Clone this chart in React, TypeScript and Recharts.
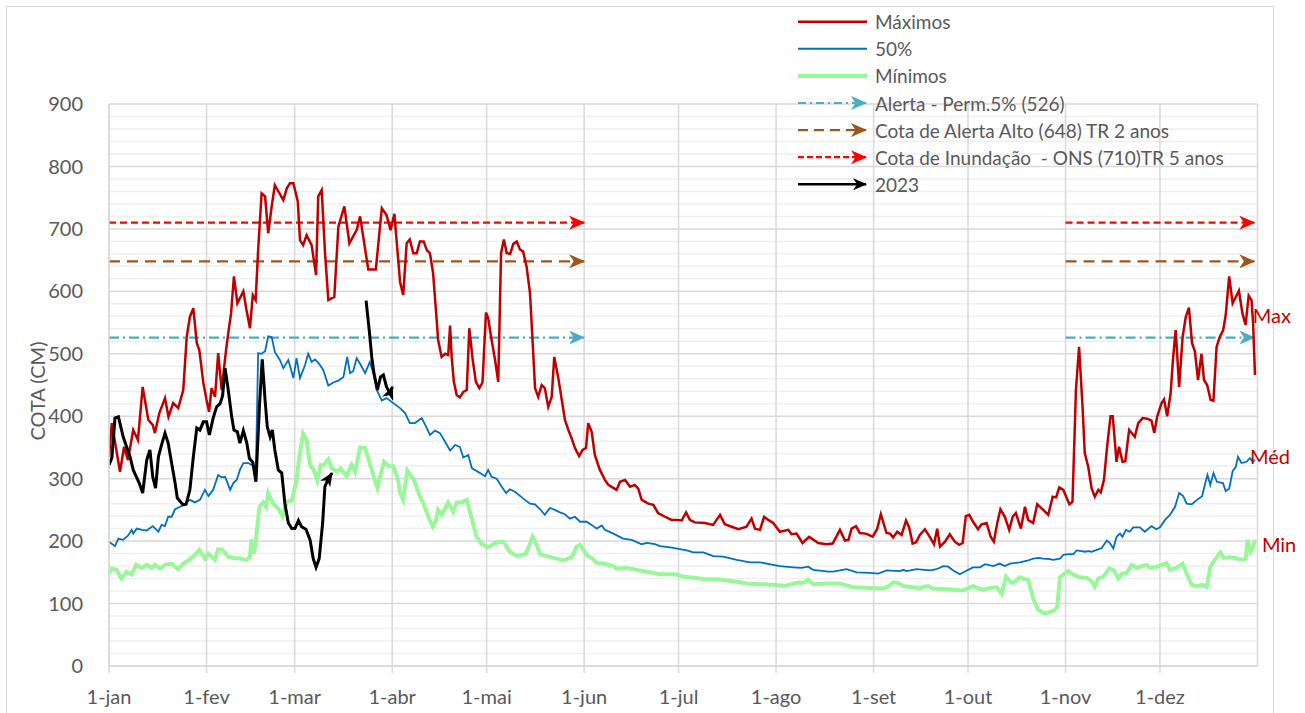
import React from 'react';
import { LineChart, Line, XAxis, YAxis, CartesianGrid, Legend, ReferenceDot } from 'recharts';

// ---------- categories / ticks ----------
const monthDays = [0, 31, 59, 90, 120, 151, 181, 212, 243, 273, 304, 334];
const monthLabels = ['1-jan', '1-fev', '1-mar', '1-abr', '1-mai', '1-jun', '1-jul', '1-ago', '1-set', '1-out', '1-nov', '1-dez'];
const yearEnd = 365;
const yTicks = [0, 100, 200, 300, 400, 500, 600, 700, 800, 900];
const yMinorTicks = [20, 40, 60, 80, 120, 140, 160, 180, 220, 240, 260, 280, 320, 340, 360, 380, 420, 440, 460, 480, 520, 540, 560, 580, 620, 640, 660, 680, 720, 740, 760, 780, 820, 840, 860, 880];

// ---------- series values: [day of year, cota cm] ----------
const maximos: number[][] = [
  [0, 335], [0.9, 389], [3.5, 311], [4.8, 351], [6, 330], [7.7, 378], [9.2, 362], [10.7, 447], [12.5, 394], [13.9, 386],
  [14.6, 373], [16, 405], [17.8, 429], [18.9, 399], [20.4, 421], [22, 413], [23.6, 442], [24.7, 527], [25.7, 559], [26.8, 573],
  [27.9, 517], [28.7, 506], [30, 453], [31, 426], [31.8, 407], [32.6, 445], [33.7, 431], [34.7, 501], [35.8, 442], [37.2, 506],
  [37.9, 533], [38.8, 565], [39.7, 624], [40.8, 581], [42.7, 600], [43.7, 570], [44.8, 541], [45.7, 594], [46.6, 586], [47.4, 666],
  [48.5, 757], [49.6, 752], [50.6, 693], [51.7, 736], [52.7, 770], [55.4, 746], [56.5, 765], [57.5, 773], [58.6, 773], [60, 744],
  [60.7, 682], [61.7, 674], [62.8, 690], [64.4, 674], [65.8, 626], [66.5, 752], [67.6, 762], [68.6, 666], [69.7, 586], [71.6, 591],
  [72.9, 704], [74.8, 736], [76.4, 677], [78.7, 698], [79.8, 720], [82.4, 635], [84.8, 635], [86.7, 733], [88.2, 722], [89.5, 698],
  [90.7, 724], [92.5, 615], [93.5, 594], [94.6, 677], [95.6, 683], [96.7, 661], [97.8, 661], [98.8, 680], [100, 680], [101, 666],
  [102, 661], [103, 629], [103.9, 570], [104.6, 522], [105.7, 495], [106.8, 500], [107.8, 498], [108.4, 545], [108.9, 495], [109.6, 455],
  [110.5, 434], [111.5, 430], [112.6, 439], [113.7, 442], [114.5, 541], [115.6, 490], [116.6, 455], [117.7, 445], [118.7, 454], [119.8, 566],
  [120.5, 557], [121.6, 522], [122.7, 490], [123.7, 455], [124.6, 661], [125.5, 683], [126.4, 661], [127.5, 660], [128.5, 676], [129.6, 680],
  [130.6, 667], [131.6, 664], [132.7, 640], [133.8, 597], [134.6, 522], [135.4, 445], [136.4, 431], [137.5, 450], [138.5, 445], [139.6, 415],
  [140.7, 431], [141.5, 495], [142.8, 461], [143.9, 426], [144.9, 394], [146, 378], [147, 365], [148.1, 349], [149.4, 336], [150.5, 346],
  [151.6, 349], [152.3, 389], [153.4, 375], [154.4, 338], [156, 314], [157.6, 298], [158.7, 290], [161.3, 282], [162.4, 295], [164, 298],
  [165.6, 287], [167.1, 290], [168.2, 284], [169.3, 266], [171.4, 260], [173, 258], [174.5, 245], [176.7, 239], [178.8, 234], [180.4, 234],
  [182, 233], [183.4, 246], [184.6, 234], [186.2, 230], [189.4, 229], [192, 226], [194.2, 242], [195.7, 227], [197.9, 223], [200, 219],
  [202.6, 223], [204.2, 236], [205.3, 220], [206.9, 218], [208.2, 239], [209.5, 234], [211.1, 229], [213.2, 215], [215.9, 218], [216.9, 211],
  [218.5, 212], [220.4, 197], [222.5, 207], [225.4, 197], [228, 195], [230, 196], [232.3, 218], [233.9, 201], [235, 202], [236, 220],
  [237.4, 224], [238.6, 213], [240.5, 212], [242.7, 207], [244.1, 219], [245.3, 243], [247.1, 213], [248.2, 212], [249.2, 206], [250.5, 215],
  [251.9, 210], [253.3, 233], [254.3, 222], [255.4, 196], [256.5, 198], [257.7, 210], [259.3, 219], [260.7, 208], [262.2, 195], [263.2, 220],
  [264.1, 191], [265.7, 199], [267.2, 211], [268.8, 199], [270.2, 194], [271.3, 197], [272.3, 240], [273.4, 242], [274.6, 231], [276.2, 219],
  [277.3, 227], [278.9, 229], [280.2, 207], [281.2, 199], [282.3, 229], [283.3, 251], [284.7, 239], [286.1, 218], [287.2, 239], [288.2, 245],
  [289.8, 220], [291.1, 255], [292.1, 234], [293.7, 229], [295, 259], [296.9, 250], [298.5, 242], [299.9, 271], [301, 270], [302, 286],
  [303.3, 282], [305.2, 259], [306.2, 263], [307.3, 442], [308.3, 511], [309.4, 415], [310.1, 341], [311.2, 319], [312.3, 284], [313.3, 271],
  [314.4, 282], [315.2, 278], [316.2, 298], [317.2, 351], [318.3, 400], [319, 400], [320.2, 327], [321, 351], [322.1, 327], [323, 328],
  [324.2, 378], [326, 367], [327.1, 389], [328.5, 397], [330, 396], [331.3, 393], [332.2, 373], [333.1, 399], [334.5, 421], [335.3, 427],
  [336.3, 400], [337.4, 437], [338.2, 495], [339, 538], [340.1, 447], [341.2, 527], [342.2, 559], [343.2, 574], [344.2, 517], [345.1, 504],
  [346.1, 458], [347.2, 500], [348, 458], [349, 450], [350.1, 426], [351, 425], [352, 511], [353, 527], [354.1, 538], [354.9, 562],
  [356, 624], [357.1, 581], [358.1, 591], [359.1, 601], [360.2, 565], [361.2, 546], [362.2, 593], [363.1, 586], [363.6, 549], [364.2, 466],
];

const mediana: number[][] = [
  [0, 199], [1.9, 192], [3, 204], [4.5, 202], [6.1, 209], [7.2, 218], [7.7, 212], [8.8, 220], [10.4, 218], [12, 217],
  [13.9, 224], [15.7, 215], [16.7, 226], [17.8, 224], [18.8, 239], [19.9, 239], [21, 251], [22.6, 255], [24.2, 260], [25.7, 266],
  [27.3, 262], [28.9, 266], [30.5, 282], [31.6, 272], [33.1, 282], [34.7, 306], [35.8, 302], [36.9, 303], [38.5, 282], [39.5, 293],
  [40.6, 298], [41.6, 314], [42.7, 325], [44.3, 325], [45.3, 322], [46.7, 320], [47.4, 501], [48.5, 500], [49.6, 504], [50.6, 528],
  [51.7, 527], [52.7, 503], [54.3, 490], [55.4, 477], [57, 490], [58.6, 461], [59.6, 493], [60.7, 461], [62.3, 482], [63.3, 500],
  [64.4, 487], [65.5, 491], [66.8, 484], [68.1, 474], [69.7, 449], [71.3, 454], [72.9, 457], [74.5, 463], [75.7, 495], [76.6, 469],
  [77.6, 472], [78.7, 493], [79.8, 484], [81.4, 469], [82.9, 487], [84, 469], [85.1, 442], [86.7, 425], [88.2, 429], [89.8, 423],
  [92.5, 413], [94.1, 405], [95.6, 389], [97.2, 389], [99.4, 397], [101, 381], [102, 370], [103.6, 377], [105.2, 373], [106.8, 359],
  [108.4, 345], [110, 354], [111.5, 351], [112.6, 334], [114.2, 338], [115.3, 317], [117.9, 309], [119.5, 304], [120.5, 314], [121.6, 303],
  [123.2, 300], [124.8, 287], [126.2, 277], [127.4, 283], [129, 279], [131.7, 268], [133.8, 260], [135.4, 259], [137, 251], [138.5, 242],
  [140.1, 253], [141.7, 250], [143.3, 246], [144.9, 243], [146.5, 236], [148.1, 239], [149.7, 231], [151.8, 231], [153.4, 226], [155, 220],
  [156.6, 225], [157.6, 218], [160.3, 212], [163.4, 204], [166.1, 202], [169.3, 195], [170.9, 197], [173.5, 195], [175.1, 192], [178.3, 190],
  [181.5, 187], [183.6, 185], [185.7, 182], [188.9, 182], [192, 176], [195.2, 175], [199.5, 170], [203.7, 166], [206.9, 166], [211.1, 162],
  [213.2, 160], [217.5, 158], [220.1, 157], [222.2, 159], [223.8, 154], [228.6, 151], [230.2, 151], [234.4, 155], [237.6, 150], [241.8, 149],
  [244.5, 148], [247.1, 153], [251.4, 152], [252.4, 154], [253.5, 152], [256.6, 155], [260.9, 153], [263, 155], [265.1, 160], [266.7, 159],
  [268.3, 153], [270.4, 147], [272.6, 153], [274.6, 158], [276.8, 158], [278.4, 163], [281, 160], [283.1, 164], [284.7, 160], [286.3, 164],
  [289.5, 166], [292.1, 169], [293.7, 172], [295.3, 173], [296.9, 172], [299, 171], [300.1, 170], [302.2, 172], [303.3, 178], [304.9, 179],
  [306.5, 179], [307.5, 185], [309.1, 184], [310.1, 183], [311.2, 184], [312.3, 183], [313.9, 186], [315.5, 189], [317.1, 201], [318.1, 197],
  [319.2, 188], [320.2, 207], [321.3, 212], [322.1, 207], [323.2, 218], [324.4, 215], [325.5, 222], [327.6, 222], [329.2, 215], [331.3, 224],
  [332.9, 219], [334, 222], [335.6, 234], [337.2, 242], [338.8, 255], [340.1, 277], [341.4, 272], [342.5, 260], [344.1, 259], [345.8, 266],
  [347.4, 272], [348.4, 293], [349.1, 306], [350, 290], [351, 309], [352.1, 295], [354, 293], [354.9, 280], [356, 284], [357.1, 312],
  [358.1, 319], [358.8, 335], [359.9, 325], [361.5, 327], [362.6, 333], [363.6, 327], [364.2, 330],
];

const minimos: number[][] = [
  [0, 148], [0.9, 156], [2.4, 154], [4, 140], [5.6, 151], [7.2, 147], [8.6, 162], [10.4, 157], [12, 162], [13.6, 157],
  [14.6, 162], [16.2, 156], [17.8, 162], [19.9, 164], [22, 155], [23.6, 164], [25.2, 169], [26.8, 175], [28.7, 186], [30.5, 172],
  [31.6, 180], [33.7, 170], [34.7, 187], [36.1, 186], [37.9, 175], [39.5, 173], [41.6, 172], [43.8, 170], [44.8, 175], [45.3, 203],
  [46.1, 180], [46.7, 202], [47.8, 255], [49, 262], [49.9, 255], [50.6, 277], [52.2, 260], [53.8, 252], [55.2, 240], [56.5, 263],
  [58.1, 265], [59.6, 298], [60.5, 335], [61.7, 372], [62.8, 362], [63.9, 322], [65.1, 314], [66.2, 297], [67.3, 322], [68.1, 321],
  [69.7, 331], [70.8, 317], [72.4, 311], [73.6, 316], [75.5, 304], [77.1, 322], [78.2, 311], [79.8, 350], [81.4, 349], [82.4, 333],
  [83.8, 309], [85.3, 285], [86.3, 306], [87.4, 327], [88.8, 320], [90.3, 320], [91.9, 298], [92.5, 277], [93.5, 266], [94.8, 313],
  [96.2, 303], [97.2, 295], [98.6, 274], [99.9, 260], [101.5, 239], [102.9, 223], [103.9, 232], [104.6, 250], [105.7, 242], [107.8, 262],
  [109.4, 247], [110.5, 262], [112.1, 262], [113.7, 266], [115.3, 236], [116.8, 207], [118.4, 196], [120.5, 190], [122.7, 197], [125.3, 199],
  [127.4, 183], [129.6, 176], [132.2, 179], [133.3, 189], [134.6, 207], [135.9, 194], [137, 179], [139.1, 176], [142.3, 172], [144.4, 169],
  [147, 174], [148.6, 191], [149.7, 194], [151.8, 178], [153.9, 171], [155, 165], [157.1, 164], [160.3, 160], [161.3, 156], [164.5, 157],
  [168.7, 153], [171.9, 150], [175.1, 147], [179.9, 147], [182.5, 143], [186.8, 141], [188.9, 139], [193.1, 139], [196.3, 137], [199.5, 135],
  [202.6, 132], [206.9, 131], [211.1, 130], [214.8, 128], [217.5, 132], [219.6, 134], [220.6, 133], [222.2, 138], [223.8, 131], [228.6, 132],
  [232.3, 132], [236.5, 126], [241.8, 125], [246, 124], [247.6, 127], [249.2, 134], [250.8, 133], [252.4, 128], [255.6, 126], [257.7, 124],
  [258.8, 127], [260.3, 128], [261.9, 124], [266.2, 123], [271.5, 121], [274.6, 128], [277.8, 122], [279.9, 125], [282.1, 126], [283.7, 116],
  [285.1, 143], [286.8, 133], [287.9, 135], [289.5, 142], [291.1, 139], [292.1, 138], [293.7, 108], [295.3, 90], [297.4, 84], [299, 86],
  [300.6, 90], [301.4, 95], [302.2, 142], [304.9, 152], [306.5, 146], [308.6, 142], [310.8, 141], [312.3, 135], [313.3, 127], [314.4, 140],
  [316, 143], [317.9, 156], [319.2, 154], [320.8, 140], [321.9, 148], [323.4, 149], [325, 162], [326.6, 157], [328.2, 160], [329.8, 162],
  [330.8, 157], [333, 159], [334.5, 162], [336.1, 165], [337.2, 154], [339.3, 157], [341.2, 164], [342.5, 148], [344.1, 130], [345.7, 128],
  [347.3, 130], [348.9, 127], [350, 159], [351.6, 171], [353.2, 182], [354.3, 173], [355.9, 174], [358, 173], [360.2, 170], [361.3, 172],
  [361.8, 202], [362.8, 183], [363.6, 190], [364.2, 202],
];

const ano2023a: number[][] = [
  [0, 322], [0.9, 333], [1.9, 397], [3, 399], [4.5, 367], [5.6, 351], [6.7, 335], [7.7, 314], [9.6, 293], [10.7, 277],
  [12, 330], [13, 346], [13.9, 303], [14.8, 285], [15.7, 335], [16.7, 354], [17.8, 373], [18.8, 357], [19.9, 325], [21, 293],
  [21.7, 269], [23.6, 258], [24.5, 259], [25.7, 282], [26.8, 335], [27.9, 381], [28.9, 378], [30, 391], [31, 391], [31.9, 370],
  [33.1, 397], [34.2, 415], [35.3, 420], [36.1, 433], [36.9, 477], [37.9, 442], [39, 399], [39.7, 378], [40.8, 375], [41.6, 357],
  [42.7, 377], [43.8, 357], [44.6, 333], [45.7, 326], [46.7, 295], [47.8, 415], [48.7, 491], [49.6, 426], [50.3, 383], [51.2, 367],
  [51.9, 378], [52.7, 346], [53.8, 314], [54.9, 309], [55.9, 260], [57, 229], [58.1, 220], [59.1, 220], [60.2, 233], [61.2, 223],
  [62.6, 219], [63.9, 202], [64.9, 172], [65.8, 158], [66.8, 172], [67.9, 229], [68.6, 287], [69.5, 298], [70.9, 309],
];
const ano2023b: number[][] = [
  [81.7, 585], [82.7, 538], [83.5, 495], [84.2, 469], [85.3, 442], [86.3, 463], [87.2, 466], [88.2, 447], [89.3, 437], [90.1, 447],
];

const alertaPerm = 526;
const alertaAlto = 648;
const inundacao = 710;
const thresholdSpans = [[0, 151], [304, 364]];

const sideLabels = [
  { text: 'Max', day: 363.5, value: 560 },
  { text: 'Méd', day: 362.6, value: 335 },
  { text: 'Min', day: 366.4, value: 194 },
];

// ---------- styles ----------
const C = {
  max: '#C00000',
  med: '#0070C0',
  min: '#99F799',
  alerta: '#4BACC6',
  alto: '#A0561A',
  inund: '#FF0000',
  y2023: '#000000',
  text: '#595959',
  grid: '#D9D9D9',
  minor: '#EFEFEF',
};
const FONT = 'Lato, "Open Sans", sans-serif';

const toPts = (pairs: number[][]) => pairs.map(([d, v]) => ({ d, v }));
const spanPts = (value: number) => thresholdSpans.map(([a, b]) => [{ d: a, v: value }, { d: b, v: value }]);

const thresholds = [
  { key: 'inund', value: inundacao, color: C.inund, dash: '7 4', width: 2.2 },
  { key: 'alto', value: alertaAlto, color: C.alto, dash: '11 7', width: 2.2 },
  { key: 'alerta', value: alertaPerm, color: C.alerta, dash: '10 4 2 4', width: 2.2 },
];

const legendItems = [
  { label: 'Máximos', color: C.max, width: 2.5, dash: undefined as string | undefined, arrow: '' },
  { label: '50%', color: C.med, width: 2, dash: undefined, arrow: '' },
  { label: 'Mínimos', color: C.min, width: 4, dash: undefined, arrow: '' },
  { label: 'Alerta - Perm.5% (526)', color: C.alerta, width: 2.2, dash: '8 4 2 4', arrow: 'alerta' },
  { label: 'Cota de Alerta Alto (648) TR 2 anos', color: C.alto, width: 2.2, dash: '10 6', arrow: 'alto' },
  { label: 'Cota de Inundação  - ONS (710)TR 5 anos', color: C.inund, width: 2.2, dash: '6 3', arrow: 'inund' },
  { label: '2023', color: C.y2023, width: 2.5, dash: undefined, arrow: 'blk' },
];

const markerColors: Record<string, string> = { alerta: C.alerta, alto: C.alto, inund: C.inund };

const Markers = ({ prefix }: { prefix: string }) => (
  <defs>
    {Object.keys(markerColors).map((k) => (
      <marker key={k} id={`${prefix}-${k}`} viewBox="0 0 16 14" refX="15" refY="7" markerWidth="16" markerHeight="14"
        markerUnits="userSpaceOnUse" orient="auto">
        <path d="M0,0 L16,7 L0,14 L4.5,7 Z" fill={markerColors[k]} />
      </marker>
    ))}
    <marker id={`${prefix}-blk`} viewBox="0 0 14 12" refX="13" refY="6" markerWidth="14" markerHeight="12"
      markerUnits="userSpaceOnUse" orient="auto">
      <path d="M0,0 L14,6 L0,12 L4,6 Z" fill={C.y2023} />
    </marker>
  </defs>
);

const LegendBox = () => (
  <svg width={500} height={200} style={{ display: 'block' }}>
    <Markers prefix="lg" />
    {legendItems.map((it, i) => {
      const y = 21.7 + i * 27.1;
      return (
        <g key={it.label}>
          <line x1={18} y1={y} x2={it.arrow ? 86 : 87} y2={y} stroke={it.color} strokeWidth={it.width}
            strokeDasharray={it.dash} markerEnd={it.arrow ? `url(#lg-${it.arrow})` : undefined} />
          <text x={95} y={y} dominantBaseline="central" fontSize={19} fontFamily={FONT} fill={C.text}
            style={{ whiteSpace: 'pre' }}>{it.label}</text>
        </g>
      );
    })}
  </svg>
);

const YTitle = (props: any) => {
  const vb = props.viewBox || {};
  const cy = vb.height ? vb.y + vb.height / 2 + 6 : 391;
  return (
    <text transform={`translate(37, ${cy}) rotate(-90)`} textAnchor="middle" dominantBaseline="central"
      fontSize={20} fontFamily={FONT} fill={C.text}>COTA (CM)</text>
  );
};

export default function App() {
  return (
    <div style={{ position: 'absolute', left: 0, top: 0, width: 1305, height: 713, background: '#fff', fontFamily: FONT, overflow: 'hidden' }}>
      <div style={{ position: 'absolute', left: 6, top: 6, width: 1268, height: 720, border: `1px solid ${C.grid}`, boxSizing: 'border-box' }} />
      <div style={{ position: 'absolute', left: 0, top: 0 }}>
        <LineChart width={1305} height={713} margin={{ top: 104, right: 47.5, bottom: 0, left: 0 }}>
          <Markers prefix="ch" />
          <CartesianGrid horizontalValues={yMinorTicks} vertical={false} stroke={C.minor} strokeWidth={1.5} />
          <CartesianGrid horizontalValues={yTicks} verticalValues={[...monthDays, yearEnd]} stroke={C.grid} strokeWidth={1.5} />
          <XAxis dataKey="d" type="number" domain={[0, yearEnd]} ticks={monthDays} interval={0} allowDataOverflow
            tickFormatter={(v: number) => monthLabels[monthDays.indexOf(v)] ?? ''}
            height={47} tickSize={7} tickMargin={17}
            axisLine={{ stroke: C.grid, strokeWidth: 1.5 }} tickLine={{ stroke: C.grid, strokeWidth: 1.5 }}
            tick={{ fill: C.text, fontSize: 20, fontFamily: FONT }} />
          <YAxis type="number" domain={[0, 900]} ticks={yTicks} interval={0} width={109} tickLine={false} tickSize={0} tickMargin={26}
            axisLine={{ stroke: C.grid, strokeWidth: 1.5 }} tick={{ fill: C.text, fontSize: 20, fontFamily: FONT }}
            label={<YTitle />} />
          {thresholds.map((t) =>
            spanPts(t.value).map((seg, j) => (
              <Line key={`${t.key}-${j}`} data={seg} dataKey="v" stroke={t.color} strokeWidth={t.width} strokeDasharray={t.dash}
                dot={false} activeDot={false} isAnimationActive={false} markerEnd={`url(#ch-${t.key})`} legendType="none" />
            ))
          )}
          <Line data={toPts(minimos)} dataKey="v" stroke={C.min} strokeWidth={4} dot={false} activeDot={false} isAnimationActive={false} />
          <Line data={toPts(mediana)} dataKey="v" stroke={C.med} strokeWidth={1.8} dot={false} activeDot={false} isAnimationActive={false} />
          <Line data={toPts(maximos)} dataKey="v" stroke={C.max} strokeWidth={2.5} dot={false} activeDot={false} isAnimationActive={false} />
          <Line data={toPts(ano2023a)} dataKey="v" stroke={C.y2023} strokeWidth={3} dot={false} activeDot={false} isAnimationActive={false} markerEnd="url(#ch-blk)" />
          <Line data={toPts(ano2023b)} dataKey="v" stroke={C.y2023} strokeWidth={3} dot={false} activeDot={false} isAnimationActive={false} markerEnd="url(#ch-blk)" />
          {sideLabels.map((s) => (
            <ReferenceDot key={s.text} x={s.day} y={s.value} r={0} fill="none" stroke="none" ifOverflow="visible"
              label={{ value: s.text, position: 'right', offset: 0, fill: C.max, fontSize: 20, fontFamily: FONT }} />
          ))}
          <Legend layout="vertical" align="center" verticalAlign="middle" content={() => <LegendBox />}
            wrapperStyle={{ position: 'absolute', left: 780, top: 0, width: 500, height: 200 }} />
        </LineChart>
      </div>
    </div>
  );
}
